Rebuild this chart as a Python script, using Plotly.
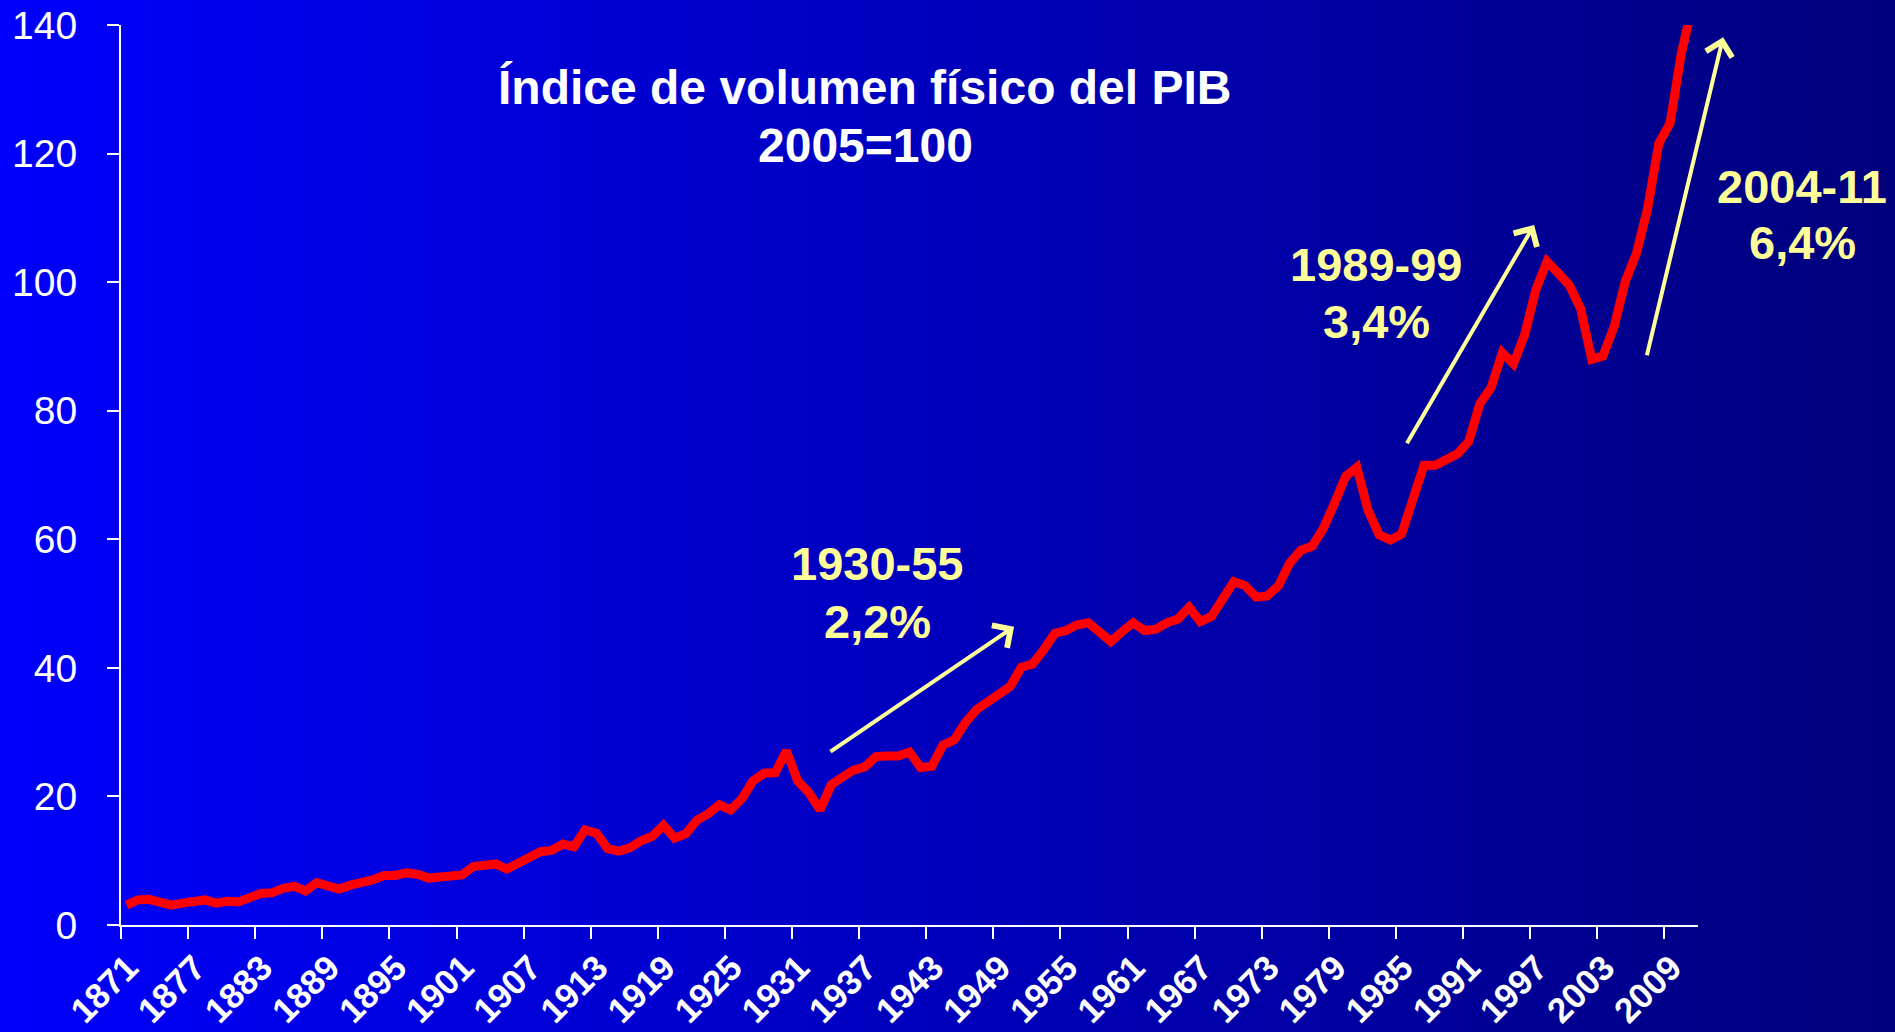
import plotly.graph_objects as go

# ---------------- data ----------------
years = list(range(1871, 2012))
pib = [
    3.1, 3.9, 4.0, 3.6, 3.1, 3.4, 3.5, 3.9, 3.4, 3.7,          # 1871-1880
    3.6, 4.2, 4.9, 5.0, 5.7, 6.0, 5.3, 6.6, 6.1, 5.6,          # 1881-1890
    6.2, 6.5, 7.0, 7.7, 7.7, 8.1, 7.9, 7.3, 7.5, 7.6,          # 1891-1900
    7.8, 9.1, 9.3, 9.5, 8.7, 9.5, 10.5, 11.4, 11.6, 12.6,      # 1901-1910
    12.2, 14.8, 14.3, 11.9, 11.5, 12.0, 13.1, 13.8, 15.5, 13.5, # 1911-1920
    14.2, 16.3, 17.3, 18.7, 17.9, 19.6, 22.4, 23.6, 23.7, 27.1, # 1921-1930
    22.4, 20.6, 17.9, 21.8, 23.0, 24.1, 24.6, 26.2, 26.3, 26.3, # 1931-1940
    26.9, 24.5, 24.7, 28.0, 28.8, 31.5, 33.5, 34.7, 35.9, 37.1, # 1941-1950
    40.1, 40.6, 42.8, 45.4, 45.8, 46.7, 47.0, 45.4, 44.1, 45.6, # 1951-1960
    47.0, 45.8, 46.0, 47.0, 47.6, 49.4, 47.2, 48.0, 51.0, 53.4, # 1961-1970
    52.8, 51.0, 51.2, 52.8, 56.3, 58.3, 58.9, 61.7, 65.6, 69.8, # 1971-1980
    71.2, 64.5, 60.7, 59.9, 60.8, 66.2, 71.5, 71.5, 72.6, 73.3, # 1981-1990
    75.2, 81.1, 83.6, 89.0, 87.3, 91.8, 98.8, 103.2, 101.4, 99.5, # 1991-2000
    95.9, 88.0, 88.5, 93.1, 100.1, 104.5, 111.5, 121.6, 124.7, 135.5, # 2001-2010
    143.0,                                                       # 2011
]
tick_years = list(range(1871, 2010, 6))
y_ticks = [0, 20, 40, 60, 80, 100, 120, 140]

title_lines = ["Índice de volumen físico del PIB", "2005=100"]
period_labels = ["1930-55", "1989-99", "2004-11"]
period_rates = ["2,2%", "3,4%", "6,4%"]
# arrows: (tail year, tail value, head year, head value)
arrow_tail_x = [1933.8, 1985.4, 2006.9]
arrow_tail_y = [26.8, 74.7, 88.4]
arrow_head_x = [1950.35, 1996.85, 2013.75]
arrow_head_y = [46.4, 108.9, 138.1]

# ---------------- layout geometry ----------------
W, H = 1895, 1032
L_PX, R_PX, T_PX, B_PX = 121, 1698, 25, 925
YELLOW = "#FFFF99"
FONT = "Liberation Sans, Arial, sans-serif"

fig = go.Figure()
fig.add_trace(go.Scatter(
    x=years, y=pib, mode="lines",
    line=dict(color="#FF0000", width=9),
    hoverinfo="x+y", showlegend=False,
))

# horizontal gradient background (bright blue -> navy)
shapes = []
n = 160
for i in range(n):
    t = (i + 0.5) / n
    b = round(252 + (124 - 252) * t)
    shapes.append(dict(
        type="rect", xref="paper", yref="paper",
        x0=i / n, x1=min(1.0, (i + 1) / n + 0.002), y0=0, y1=1,
        fillcolor=f"rgb(0,0,{b})", line=dict(width=0), layer="below",
    ))

annotations = []
# title (two lines)
for txt, ypx in zip(title_lines, [87, 145]):
    annotations.append(dict(
        text=txt, xref="paper", yref="paper", x=865 / W, y=1 - ypx / H,
        xanchor="center", yanchor="middle", showarrow=False,
        font=dict(family=FONT, size=48, color="white", weight="bold"),
    ))

label_px = [(877, 563, 621), (1376, 264, 321), (1802, 186, 243)]
for lab, rate, (xp, y1, y2) in zip(period_labels, period_rates, label_px):
    for txt, ypx in ((lab, y1), (rate, y2)):
        annotations.append(dict(
            text=txt, xref="paper", yref="paper", x=xp / W, y=1 - ypx / H,
            xanchor="center", yanchor="middle", showarrow=False,
            font=dict(family=FONT, size=47, color=YELLOW, weight="bold"),
        ))

for tx, ty, hx, hy in zip(arrow_tail_x, arrow_tail_y, arrow_head_x, arrow_head_y):
    annotations.append(dict(
        x=hx, y=hy, ax=tx, ay=ty, xref="x", yref="y", axref="x", ayref="y",
        text="", showarrow=True, arrowhead=4, arrowsize=1.3, arrowwidth=4,
        arrowcolor=YELLOW,
    ))

fig.update_layout(
    width=W, height=H,
    margin=dict(l=0, r=0, t=0, b=0, pad=0),
    paper_bgcolor="#0000BB",
    plot_bgcolor="rgba(0,0,0,0)",
    shapes=shapes,
    annotations=annotations,
    showlegend=False,
    xaxis=dict(
        domain=[L_PX / W, R_PX / W],
        range=[1870.5, 2011.5],
        tickmode="array",
        tickvals=[y - 0.5 for y in tick_years],
        ticktext=[str(y) for y in tick_years],
        tickangle=-45,
        ticks="outside", ticklen=12, tickwidth=2, tickcolor="white",
        showline=True, linecolor="white", linewidth=2,
        showgrid=False, zeroline=False, automargin=False,
        ticklabelstandoff=-6, ticklabelshift=7,
        tickfont=dict(family=FONT, size=35, color="white", weight="bold"),
    ),
    yaxis=dict(
        domain=[1 - B_PX / H, 1 - T_PX / H],
        range=[0, 140],
        tickmode="array",
        tickvals=y_ticks,
        ticktext=[str(v) for v in y_ticks],
        ticks="outside", ticklen=12, tickwidth=2, tickcolor="white",
        showline=True, linecolor="white", linewidth=2,
        showgrid=False, zeroline=False, automargin=False,
        ticklabelstandoff=22,
        tickfont=dict(family=FONT, size=39, color="white"),
    ),
)

fig.write_html(
    "out.html",
    config={"displayModeBar": False},
    post_script="document.body.style.margin='0';document.body.style.overflow='hidden';",
)
